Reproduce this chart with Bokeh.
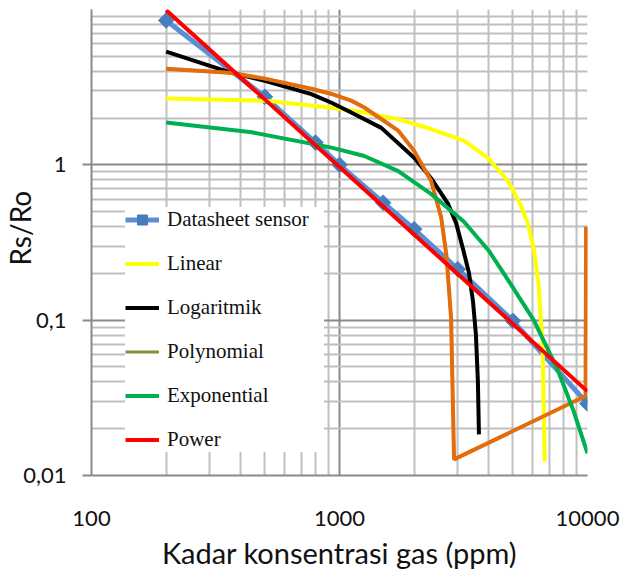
import numpy as np
from bokeh.plotting import figure
from bokeh.models import FixedTicker, CustomJSTickFormatter, Legend, LegendItem
from bokeh.embed import file_html
from bokeh.resources import INLINE

# ---- data ----
x_major = [100, 1000, 10000]
x_minor = [200, 300, 400, 500, 600, 700, 800, 900,
           2000, 3000, 4000, 5000, 6000, 7000, 8000, 9000]
y_major = [0.01, 0.1, 1, 10]
y_minor = [0.02, 0.03, 0.04, 0.05, 0.06, 0.07, 0.08, 0.09,
           0.2, 0.3, 0.4, 0.5, 0.6, 0.7, 0.8, 0.9,
           2, 3, 4, 5, 6, 7, 8, 9]

datasheet_x = [200, 500, 800, 1000, 1500, 2000, 3000, 5000, 10000]
datasheet_y = [8.5, 2.74, 1.39, 1.0, 0.57, 0.385, 0.213, 0.099, 0.029]

linear_x = [200, 500, 929, 1259, 1726, 2339, 3177, 3963, 4771, 5383, 5741, 6070, 6350, 6590, 6720]
linear_y = [2.67, 2.59, 2.33, 2.17, 1.97, 1.70, 1.43, 1.11, 0.79, 0.55, 0.42, 0.29, 0.17, 0.068, 0.0123]

log_x = [200, 359, 500, 770, 929, 1115, 1475, 2000, 2339, 2742, 2951, 3148, 3327, 3452, 3548, 3614, 3650]
log_y = [5.36, 3.95, 3.48, 2.85, 2.51, 2.17, 1.73, 1.11, 0.82, 0.56, 0.423, 0.287, 0.201, 0.133, 0.081, 0.0405, 0.0184]

poly_x = [200, 359, 500, 770, 929, 1115, 1259, 1726, 2000, 2339, 2570, 2700, 2818, 2897, 9820, 9870]
poly_y = [4.16, 3.92, 3.59, 3.09, 2.86, 2.59, 2.34, 1.66, 1.23, 0.79, 0.46, 0.26, 0.103, 0.0127, 0.0325, 0.40]

exp_x = [200, 443, 929, 1259, 1726, 2339, 3177, 4000, 4910, 6070, 7580, 8790, 10000]
exp_y = [1.87, 1.62, 1.29, 1.14, 0.91, 0.65, 0.43, 0.28, 0.17, 0.10, 0.048, 0.026, 0.0139]

power_x = [200, 1000, 10000]
power_y = [9.9, 0.968, 0.0348]

series_names = ["Datasheet sensor", "Linear", "Logaritmik", "Polynomial", "Exponential", "Power"]
x_title = "Kadar konsentrasi gas (ppm)"
y_title = "Rs/Ro"

# ---- figure ----
p = figure(width=622, height=574, x_axis_type="log", y_axis_type="log",
           x_range=(100, 10000), y_range=(0.01, 10),
           output_backend="svg", toolbar_location=None,
           min_border_left=89, min_border_right=35, min_border_top=9, min_border_bottom=99)
p.outline_line_color = None
p.background_fill_color = "white"

# grids
p.xgrid.ticker = FixedTicker(ticks=x_major, minor_ticks=x_minor)
p.ygrid.ticker = FixedTicker(ticks=y_major, minor_ticks=y_minor)
for g in (p.xgrid, p.ygrid):
    g.grid_line_color = "#8a8a8a"
    g.grid_line_width = 2
    g.minor_grid_line_color = "#bfbfbf"
    g.minor_grid_line_width = 2

# x axis
p.xaxis.ticker = FixedTicker(ticks=x_major, minor_ticks=[])
p.xaxis.formatter = CustomJSTickFormatter(code="return tick.toFixed(0);")
p.xaxis.axis_line_color = "#8a8a8a"
p.xaxis.axis_line_width = 2
p.xaxis.major_tick_out = 0
p.xaxis.major_tick_in = 0
p.xaxis.minor_tick_out = 0
p.xaxis.minor_tick_in = 0
p.xaxis.major_label_standoff = 35
p.xaxis.major_label_text_font = "Lato"
p.xaxis.major_label_text_font_size = "22px"
p.xaxis.major_label_text_color = "#111111"
p.xaxis.axis_label = x_title
p.xaxis.axis_label_standoff = 6
p.xaxis.axis_label_text_font = "Lato"
p.xaxis.axis_label_text_font_size = "29px"
p.xaxis.axis_label_text_font_style = "normal"
p.xaxis.axis_label_text_color = "#111111"

# y axis
p.yaxis.ticker = FixedTicker(ticks=y_major[:3], minor_ticks=[])
p.yaxis.formatter = CustomJSTickFormatter(
    code="return Number(tick.toPrecision(3)).toString().replace('.', ',');")
p.yaxis.axis_line_color = "#8a8a8a"
p.yaxis.axis_line_width = 2
p.yaxis.major_tick_out = 9
p.yaxis.major_tick_in = 0
p.yaxis.major_tick_line_color = "#8a8a8a"
p.yaxis.major_tick_line_width = 2
p.yaxis.minor_tick_out = 0
p.yaxis.minor_tick_in = 0
p.yaxis.major_label_standoff = 16
p.yaxis.major_label_text_font = "Lato"
p.yaxis.major_label_text_font_size = "22px"
p.yaxis.major_label_text_color = "#111111"
# non-breaking spaces before the title move it up along the axis, as in the reference
p.yaxis.axis_label = "\u00a0" * 4 + y_title
p.yaxis.axis_label_standoff = -17
p.yaxis.axis_label_text_font = "Lato"
p.yaxis.axis_label_text_font_size = "28px"
p.yaxis.axis_label_text_font_style = "normal"
p.yaxis.axis_label_text_color = "#111111"

# ---- series ----
r_ds_line = p.line(datasheet_x, datasheet_y, line_color="#5b8fd3", line_width=5)
r_ds_pts = p.scatter(datasheet_x, datasheet_y, marker="square", angle=np.pi / 4, size=11,
                     fill_color="#4a7dbb", line_color="#4a7dbb")
r_lin = p.line(linear_x, linear_y, line_color="#ffff00", line_width=4)
r_log = p.line(log_x, log_y, line_color="#000000", line_width=4)
# the Polynomial fit (legend colour) lies underneath the orange drawn curve
r_poly_leg = p.line(poly_x, poly_y, line_color="#8a8a3c", line_width=3)
r_poly_plot = p.line(poly_x, poly_y, line_color="#e46c0a", line_width=4)
r_exp = p.line(exp_x, exp_y, line_color="#00b050", line_width=4)
r_pow = p.line(power_x, power_y, line_color="#ff0000", line_width=4)

legend = Legend(items=[
    LegendItem(label=series_names[0], renderers=[r_ds_line, r_ds_pts]),
    LegendItem(label=series_names[1], renderers=[r_lin]),
    LegendItem(label=series_names[2], renderers=[r_log]),
    LegendItem(label=series_names[3], renderers=[r_poly_leg]),
    LegendItem(label=series_names[4], renderers=[r_exp]),
    LegendItem(label=series_names[5], renderers=[r_pow]),
], location=(34, 23))
legend.label_text_font = "'Liberation Serif', serif"
legend.label_text_font_size = "21px"
legend.label_text_color = "#111111"
legend.glyph_width = 34
legend.glyph_height = 25
legend.label_height = 25
legend.label_width = 157
legend.spacing = 19
legend.padding = 5
legend.margin = 0
legend.label_standoff = 8
legend.border_line_color = None
legend.background_fill_color = "white"
legend.background_fill_alpha = 1.0
p.add_layout(legend)

open("out.html", "w").write(file_html(p, INLINE))
